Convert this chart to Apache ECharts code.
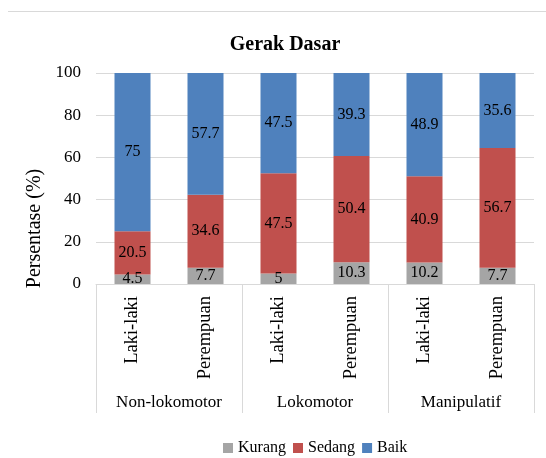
<!DOCTYPE html>
<html>
<head>
<meta charset="utf-8">
<script src="https://cdn.jsdelivr.net/npm/echarts@6/dist/echarts.min.js"></script>
<style>
  html, body { margin: 0; padding: 0; background: #fff; }
  #chart { width: 546px; height: 458px; }
</style>
</head>
<body>
<div id="chart"></div>
<script>
// data
const groups = ['Non-lokomotor', 'Lokomotor', 'Manipulatif']
const genders = ['Laki-laki', 'Perempuan', 'Laki-laki', 'Perempuan', 'Laki-laki', 'Perempuan']
const kurang = [4.5, 7.7, 5, 10.3, 10.2, 7.7]
const sedang = [20.5, 34.6, 47.5, 50.4, 40.9, 56.7]
const baik = [75, 57.7, 47.5, 39.3, 48.9, 35.6]

const font = "'Liberation Serif', 'Times New Roman', serif"

const myChart = echarts.init(document.getElementById('chart'))

const barLabel = {
  show: true,
  position: 'inside',
  color: '#000',
  fontFamily: font,
  fontSize: 16
}

const option = {
  animation: false,
  title: {
    text: 'Gerak Dasar',
    left: 280,
    textAlign: 'center',
    top: 30,
    textStyle: { fontFamily: font, fontSize: 20, fontWeight: 'bold', color: '#000' }
  },
  legend: {
    data: ['Kurang', 'Sedang', 'Baik'],
    left: 218,
    top: 435,
    itemWidth: 10,
    itemHeight: 10,
    itemGap: 7,
    icon: 'rect',
    textStyle: { fontFamily: font, fontSize: 16, color: '#000' }
  },
  grid: { left: 96, right: 12, top: 73, bottom: 174 },
  xAxis: [
    {
      type: 'category',
      data: genders,
      position: 'bottom',
      axisLine: { show: true, lineStyle: { color: '#d9d9d9' } },
      axisTick: { show: false },
      axisLabel: { rotate: 90, margin: 12, color: '#000', fontFamily: font, fontSize: 18.5 }
    },
    {
      type: 'category',
      data: groups,
      position: 'bottom',
      axisLine: { show: false },
      axisTick: { show: true, length: 129, inside: false, lineStyle: { color: '#d9d9d9' } },
      axisLabel: { margin: 110, color: '#000', fontFamily: font, fontSize: 17 }
    }
  ],
  yAxis: {
    type: 'value',
    min: 0,
    max: 100,
    interval: 20,
    name: 'Persentase (%)',
    nameLocation: 'middle',
    nameGap: 50,
    nameTextStyle: { fontFamily: font, fontSize: 20, color: '#000', padding: [0, 100, 0, 0] },
    axisLine: { show: false },
    axisTick: { show: false },
    axisLabel: { margin: 15, color: '#000', fontFamily: font, fontSize: 17 },
    splitLine: { lineStyle: { color: '#d9d9d9' } }
  },
  graphic: [
    { type: 'line', shape: { x1: 8, y1: 11.5, x2: 546, y2: 11.5 }, style: { stroke: '#d9d9d9', lineWidth: 1 } }
  ],
  series: [
    { name: 'Kurang', type: 'bar', stack: 'a', barWidth: 36, data: kurang, itemStyle: { color: '#a5a5a5' }, label: barLabel },
    { name: 'Sedang', type: 'bar', stack: 'a', barWidth: 36, data: sedang, itemStyle: { color: '#c0504d' }, label: barLabel },
    { name: 'Baik', type: 'bar', stack: 'a', barWidth: 36, data: baik, itemStyle: { color: '#4f81bd' }, label: barLabel }
  ]
}

myChart.setOption(option)
</script>
</body>
</html>
